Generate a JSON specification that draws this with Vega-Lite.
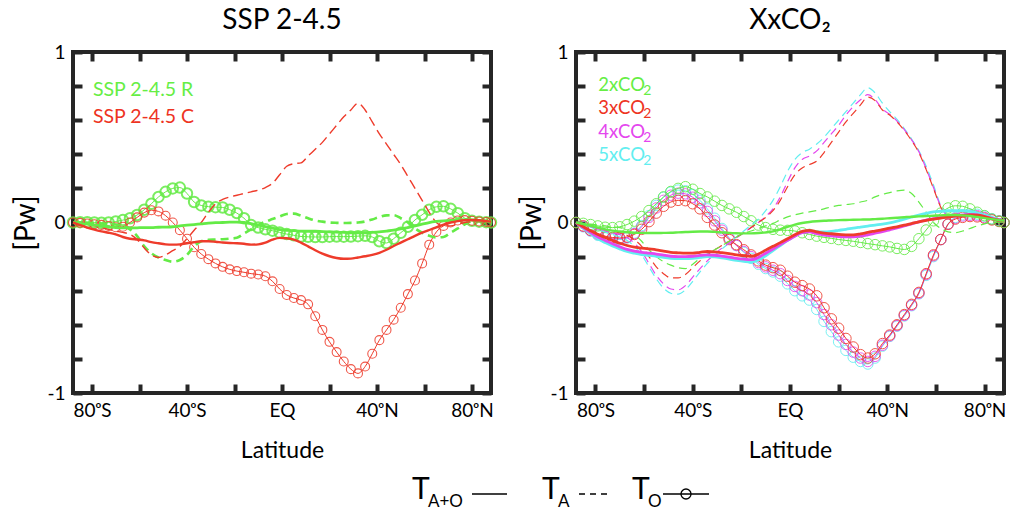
{
"$schema": "https://vega.github.io/schema/vega-lite/v6.json",
"padding": {"left": 10, "top": 5, "right": 4, "bottom": 0},
"background": "white",
"config": {
  "font": "Lato",
  "view": {"stroke": "#262626", "strokeWidth": 4},
  "axis": {"grid": false, "domain": false, "ticks": true, "tickColor": "#262626", "tickWidth": 4, "tickSize": 9, "offset": -9, "zindex": 1, "labelFont": "Lato", "labelFontSize": 19, "labelColor": "black", "titleFont": "Lato", "titleFontWeight": "normal", "titleColor": "black"},
  "title": {"font": "Lato", "fontSize": 28, "fontWeight": "normal", "color": "black"}
},
"datasets": {"d": [
{"lat":-88,"Rs":0,"Rd":0,"Ro":0,"Cs":0,"Cd":0,"Co":0,"g2s":0,"g2d":0,"g2o":0,"r3s":0,"r3d":0,"r3o":0,"m4s":0,"m4d":0,"m4o":0,"c5s":0,"c5d":0,"c5o":0},
{"lat":-85,"Rs":-0.005,"Rd":0,"Ro":0.002,"Cs":-0.015,"Cd":-0.005,"Co":-0.002,"g2s":-0.01,"g2d":-0.005,"g2o":-0.005,"r3s":-0.025,"r3d":-0.01,"r3o":-0.02,"m4s":-0.03,"m4d":-0.012,"m4o":-0.022,"c5s":-0.035,"c5d":-0.014,"c5o":-0.025},
{"lat":-82,"Rs":-0.01,"Rd":-0.002,"Ro":0.002,"Cs":-0.03,"Cd":-0.012,"Co":-0.006,"g2s":-0.02,"g2d":-0.01,"g2o":-0.012,"r3s":-0.048,"r3d":-0.02,"r3o":-0.045,"m4s":-0.058,"m4d":-0.024,"m4o":-0.048,"c5s":-0.065,"c5d":-0.028,"c5o":-0.05},
{"lat":-79,"Rs":-0.015,"Rd":-0.004,"Ro":0,"Cs":-0.042,"Cd":-0.02,"Co":-0.01,"g2s":-0.03,"g2d":-0.015,"g2o":-0.02,"r3s":-0.07,"r3d":-0.03,"r3o":-0.065,"m4s":-0.085,"m4d":-0.036,"m4o":-0.07,"c5s":-0.095,"c5d":-0.042,"c5o":-0.075},
{"lat":-76,"Rs":-0.02,"Rd":-0.006,"Ro":-0.002,"Cs":-0.052,"Cd":-0.03,"Co":-0.014,"g2s":-0.04,"g2d":-0.02,"g2o":-0.028,"r3s":-0.088,"r3d":-0.04,"r3o":-0.08,"m4s":-0.105,"m4d":-0.048,"m4o":-0.085,"c5s":-0.118,"c5d":-0.056,"c5o":-0.09},
{"lat":-73,"Rs":-0.025,"Rd":-0.008,"Ro":0,"Cs":-0.06,"Cd":-0.04,"Co":-0.02,"g2s":-0.048,"g2d":-0.025,"g2o":-0.03,"r3s":-0.105,"r3d":-0.05,"r3o":-0.088,"m4s":-0.125,"m4d":-0.06,"m4o":-0.093,"c5s":-0.138,"c5d":-0.07,"c5o":-0.098},
{"lat":-70,"Rs":-0.03,"Rd":-0.012,"Ro":0.006,"Cs":-0.07,"Cd":-0.05,"Co":-0.028,"g2s":-0.053,"g2d":-0.03,"g2o":-0.025,"r3s":-0.122,"r3d":-0.06,"r3o":-0.09,"m4s":-0.142,"m4d":-0.072,"m4o":-0.095,"c5s":-0.155,"c5d":-0.085,"c5o":-0.1},
{"lat":-67,"Rs":-0.032,"Rd":-0.02,"Ro":0.014,"Cs":-0.085,"Cd":-0.058,"Co":-0.025,"g2s":-0.057,"g2d":-0.045,"g2o":-0.012,"r3s":-0.135,"r3d":-0.075,"r3o":-0.085,"m4s":-0.158,"m4d":-0.09,"m4o":-0.088,"c5s":-0.17,"c5d":-0.105,"c5o":-0.09},
{"lat":-64,"Rs":-0.032,"Rd":-0.04,"Ro":0.025,"Cs":-0.095,"Cd":-0.07,"Co":0,"g2s":-0.06,"g2d":-0.07,"g2o":0.008,"r3s":-0.145,"r3d":-0.1,"r3o":-0.07,"m4s":-0.168,"m4d":-0.12,"m4o":-0.065,"c5s":-0.18,"c5d":-0.14,"c5o":-0.062},
{"lat":-61,"Rs":-0.031,"Rd":-0.08,"Ro":0.044,"Cs":-0.1,"Cd":-0.1,"Co":0.03,"g2s":-0.061,"g2d":-0.11,"g2o":0.035,"r3s":-0.15,"r3d":-0.14,"r3o":-0.04,"m4s":-0.175,"m4d":-0.17,"m4o":-0.025,"c5s":-0.188,"c5d":-0.19,"c5o":-0.018},
{"lat":-58,"Rs":-0.03,"Rd":-0.14,"Ro":0.075,"Cs":-0.105,"Cd":-0.15,"Co":0.058,"g2s":-0.062,"g2d":-0.16,"g2o":0.07,"r3s":-0.155,"r3d":-0.2,"r3o":0.005,"m4s":-0.18,"m4d":-0.24,"m4o":0.03,"c5s":-0.193,"c5d":-0.26,"c5o":0.04},
{"lat":-55,"Rs":-0.03,"Rd":-0.18,"Ro":0.11,"Cs":-0.115,"Cd":-0.19,"Co":0.072,"g2s":-0.062,"g2d":-0.2,"g2o":0.11,"r3s":-0.16,"r3d":-0.26,"r3o":0.055,"m4s":-0.185,"m4d":-0.31,"m4o":0.085,"c5s":-0.198,"c5d":-0.33,"c5o":0.1},
{"lat":-52,"Rs":-0.028,"Rd":-0.205,"Ro":0.15,"Cs":-0.122,"Cd":-0.205,"Co":0.065,"g2s":-0.061,"g2d":-0.23,"g2o":0.15,"r3s":-0.168,"r3d":-0.3,"r3o":0.095,"m4s":-0.192,"m4d":-0.36,"m4o":0.13,"c5s":-0.205,"c5d":-0.385,"c5o":0.148},
{"lat":-49,"Rs":-0.027,"Rd":-0.22,"Ro":0.18,"Cs":-0.128,"Cd":-0.19,"Co":0.04,"g2s":-0.06,"g2d":-0.25,"g2o":0.182,"r3s":-0.175,"r3d":-0.325,"r3o":0.12,"m4s":-0.198,"m4d":-0.39,"m4o":0.16,"c5s":-0.21,"c5d":-0.415,"c5o":0.178},
{"lat":-46,"Rs":-0.025,"Rd":-0.23,"Ro":0.2,"Cs":-0.13,"Cd":-0.165,"Co":0,"g2s":-0.058,"g2d":-0.265,"g2o":0.2,"r3s":-0.178,"r3d":-0.325,"r3o":0.13,"m4s":-0.2,"m4d":-0.395,"m4o":0.172,"c5s":-0.212,"c5d":-0.42,"c5o":0.19},
{"lat":-43,"Rs":-0.02,"Rd":-0.22,"Ro":0.205,"Cs":-0.128,"Cd":-0.14,"Co":-0.045,"g2s":-0.056,"g2d":-0.27,"g2o":0.21,"r3s":-0.18,"r3d":-0.305,"r3o":0.128,"m4s":-0.2,"m4d":-0.37,"m4o":0.168,"c5s":-0.212,"c5d":-0.395,"c5o":0.186},
{"lat":-40,"Rs":-0.016,"Rd":-0.19,"Ro":0.17,"Cs":-0.122,"Cd":-0.095,"Co":-0.095,"g2s":-0.054,"g2d":-0.245,"g2o":0.195,"r3s":-0.18,"r3d":-0.265,"r3o":0.11,"m4s":-0.198,"m4d":-0.32,"m4o":0.148,"c5s":-0.21,"c5d":-0.345,"c5o":0.165},
{"lat":-37,"Rs":-0.012,"Rd":-0.14,"Ro":0.12,"Cs":-0.115,"Cd":-0.045,"Co":-0.145,"g2s":-0.053,"g2d":-0.21,"g2o":0.17,"r3s":-0.175,"r3d":-0.225,"r3o":0.08,"m4s":-0.193,"m4d":-0.27,"m4o":0.115,"c5s":-0.205,"c5d":-0.29,"c5o":0.13},
{"lat":-34,"Rs":-0.008,"Rd":-0.11,"Ro":0.1,"Cs":-0.11,"Cd":0,"Co":-0.185,"g2s":-0.053,"g2d":-0.185,"g2o":0.15,"r3s":-0.17,"r3d":-0.19,"r3o":0.03,"m4s":-0.19,"m4d":-0.225,"m4o":0.065,"c5s":-0.2,"c5d":-0.24,"c5o":0.08},
{"lat":-31,"Rs":-0.004,"Rd":-0.102,"Ro":0.093,"Cs":-0.11,"Cd":0.06,"Co":-0.215,"g2s":-0.055,"g2d":-0.16,"g2o":0.125,"r3s":-0.172,"r3d":-0.16,"r3o":-0.015,"m4s":-0.192,"m4d":-0.185,"m4o":0.01,"c5s":-0.202,"c5d":-0.195,"c5o":0.025},
{"lat":-28,"Rs":-0.001,"Rd":-0.1,"Ro":0.09,"Cs":-0.113,"Cd":0.11,"Co":-0.24,"g2s":-0.058,"g2d":-0.135,"g2o":0.1,"r3s":-0.177,"r3d":-0.135,"r3o":-0.06,"m4s":-0.197,"m4d":-0.15,"m4o":-0.045,"c5s":-0.208,"c5d":-0.155,"c5o":-0.035},
{"lat":-25,"Rs":0,"Rd":-0.098,"Ro":0.088,"Cs":-0.117,"Cd":0.135,"Co":-0.26,"g2s":-0.061,"g2d":-0.11,"g2o":0.08,"r3s":-0.183,"r3d":-0.11,"r3o":-0.1,"m4s":-0.203,"m4d":-0.12,"m4o":-0.095,"c5s":-0.215,"c5d":-0.12,"c5o":-0.09},
{"lat":-22,"Rs":0.002,"Rd":-0.095,"Ro":0.075,"Cs":-0.12,"Cd":0.15,"Co":-0.275,"g2s":-0.063,"g2d":-0.085,"g2o":0.06,"r3s":-0.19,"r3d":-0.085,"r3o":-0.13,"m4s":-0.21,"m4d":-0.09,"m4o":-0.135,"c5s":-0.222,"c5d":-0.085,"c5o":-0.135},
{"lat":-19,"Rs":0.002,"Rd":-0.09,"Ro":0.055,"Cs":-0.122,"Cd":0.16,"Co":-0.285,"g2s":-0.064,"g2d":-0.065,"g2o":0.035,"r3s":-0.195,"r3d":-0.06,"r3o":-0.16,"m4s":-0.215,"m4d":-0.06,"m4o":-0.17,"c5s":-0.228,"c5d":-0.05,"c5o":-0.175},
{"lat":-16,"Rs":0,"Rd":-0.065,"Ro":0.025,"Cs":-0.125,"Cd":0.17,"Co":-0.292,"g2s":-0.064,"g2d":-0.05,"g2o":0.01,"r3s":-0.198,"r3d":-0.03,"r3o":-0.19,"m4s":-0.218,"m4d":-0.03,"m4o":-0.2,"c5s":-0.232,"c5d":-0.015,"c5o":-0.21},
{"lat":-13,"Rs":-0.006,"Rd":-0.04,"Ro":-0.015,"Cs":-0.13,"Cd":0.18,"Co":-0.3,"g2s":-0.062,"g2d":-0.035,"g2o":-0.015,"r3s":-0.185,"r3d":0,"r3o":-0.225,"m4s":-0.205,"m4d":0,"m4o":-0.235,"c5s":-0.22,"c5d":0.02,"c5o":-0.245},
{"lat":-10,"Rs":-0.015,"Rd":-0.015,"Ro":-0.03,"Cs":-0.128,"Cd":0.19,"Co":-0.305,"g2s":-0.058,"g2d":-0.02,"g2o":-0.03,"r3s":-0.162,"r3d":0.03,"r3o":-0.25,"m4s":-0.18,"m4d":0.035,"m4o":-0.26,"c5s":-0.195,"c5d":0.07,"c5o":-0.27},
{"lat":-7,"Rs":-0.024,"Rd":0.005,"Ro":-0.04,"Cs":-0.118,"Cd":0.205,"Co":-0.315,"g2s":-0.052,"g2d":-0.005,"g2o":-0.04,"r3s":-0.14,"r3d":0.07,"r3o":-0.265,"m4s":-0.155,"m4d":0.08,"m4o":-0.28,"c5s":-0.165,"c5d":0.13,"c5o":-0.29},
{"lat":-4,"Rs":-0.033,"Rd":0.02,"Ro":-0.048,"Cs":-0.1,"Cd":0.23,"Co":-0.345,"g2s":-0.04,"g2d":0.015,"g2o":-0.045,"r3s":-0.118,"r3d":0.13,"r3o":-0.28,"m4s":-0.13,"m4d":0.15,"m4o":-0.3,"c5s":-0.135,"c5d":0.21,"c5o":-0.315},
{"lat":-1,"Rs":-0.042,"Rd":0.035,"Ro":-0.058,"Cs":-0.09,"Cd":0.28,"Co":-0.39,"g2s":-0.025,"g2d":0.033,"g2o":-0.046,"r3s":-0.095,"r3d":0.21,"r3o":-0.315,"m4s":-0.105,"m4d":0.24,"m4o":-0.34,"c5s":-0.105,"c5d":0.3,"c5o":-0.36},
{"lat":2,"Rs":-0.046,"Rd":0.05,"Ro":-0.068,"Cs":-0.092,"Cd":0.33,"Co":-0.425,"g2s":-0.012,"g2d":0.045,"g2o":-0.05,"r3s":-0.072,"r3d":0.28,"r3o":-0.35,"m4s":-0.08,"m4d":0.32,"m4o":-0.375,"c5s":-0.078,"c5d":0.37,"c5o":-0.4},
{"lat":5,"Rs":-0.048,"Rd":0.052,"Ro":-0.075,"Cs":-0.1,"Cd":0.345,"Co":-0.443,"g2s":-0.003,"g2d":0.055,"g2o":-0.06,"r3s":-0.052,"r3d":0.32,"r3o":-0.37,"m4s":-0.06,"m4d":0.37,"m4o":-0.4,"c5s":-0.058,"c5d":0.41,"c5o":-0.43},
{"lat":8,"Rs":-0.05,"Rd":0.04,"Ro":-0.082,"Cs":-0.118,"Cd":0.35,"Co":-0.455,"g2s":0.003,"g2d":0.062,"g2o":-0.07,"r3s":-0.046,"r3d":0.34,"r3o":-0.39,"m4s":-0.055,"m4d":0.39,"m4o":-0.425,"c5s":-0.05,"c5d":0.43,"c5o":-0.455},
{"lat":11,"Rs":-0.05,"Rd":0.025,"Ro":-0.084,"Cs":-0.14,"Cd":0.39,"Co":-0.48,"g2s":0.007,"g2d":0.07,"g2o":-0.08,"r3s":-0.055,"r3d":0.36,"r3o":-0.43,"m4s":-0.066,"m4d":0.42,"m4o":-0.47,"c5s":-0.055,"c5d":0.46,"c5o":-0.51},
{"lat":14,"Rs":-0.051,"Rd":0.012,"Ro":-0.085,"Cs":-0.163,"Cd":0.43,"Co":-0.55,"g2s":0.01,"g2d":0.08,"g2o":-0.087,"r3s":-0.062,"r3d":0.41,"r3o":-0.5,"m4s":-0.074,"m4d":0.47,"m4o":-0.54,"c5s":-0.055,"c5d":0.5,"c5o":-0.58},
{"lat":17,"Rs":-0.053,"Rd":0.005,"Ro":-0.085,"Cs":-0.183,"Cd":0.47,"Co":-0.63,"g2s":0.012,"g2d":0.092,"g2o":-0.093,"r3s":-0.066,"r3d":0.47,"r3o":-0.565,"m4s":-0.078,"m4d":0.52,"m4o":-0.6,"c5s":-0.052,"c5d":0.55,"c5o":-0.64},
{"lat":20,"Rs":-0.055,"Rd":0,"Ro":-0.083,"Cs":-0.198,"Cd":0.52,"Co":-0.7,"g2s":0.014,"g2d":0.1,"g2o":-0.1,"r3s":-0.07,"r3d":0.53,"r3o":-0.62,"m4s":-0.082,"m4d":0.57,"m4o":-0.66,"c5s":-0.046,"c5d":0.6,"c5o":-0.7},
{"lat":23,"Rs":-0.057,"Rd":-0.002,"Ro":-0.082,"Cs":-0.208,"Cd":0.57,"Co":-0.76,"g2s":0.015,"g2d":0.105,"g2o":-0.105,"r3s":-0.072,"r3d":0.59,"r3o":-0.68,"m4s":-0.084,"m4d":0.63,"m4o":-0.715,"c5s":-0.04,"c5d":0.65,"c5o":-0.75},
{"lat":26,"Rs":-0.058,"Rd":-0.003,"Ro":-0.083,"Cs":-0.213,"Cd":0.62,"Co":-0.815,"g2s":0.016,"g2d":0.11,"g2o":-0.11,"r3s":-0.073,"r3d":0.64,"r3o":-0.73,"m4s":-0.084,"m4d":0.68,"m4o":-0.76,"c5s":-0.033,"c5d":0.7,"c5o":-0.79},
{"lat":29,"Rs":-0.06,"Rd":-0.002,"Ro":-0.082,"Cs":-0.212,"Cd":0.66,"Co":-0.86,"g2s":0.017,"g2d":0.12,"g2o":-0.117,"r3s":-0.067,"r3d":0.69,"r3o":-0.775,"m4s":-0.08,"m4d":0.72,"m4o":-0.795,"c5s":-0.027,"c5d":0.75,"c5o":-0.815},
{"lat":32,"Rs":-0.06,"Rd":0,"Ro":-0.08,"Cs":-0.205,"Cd":0.7,"Co":-0.885,"g2s":0.018,"g2d":0.13,"g2o":-0.124,"r3s":-0.058,"r3d":0.735,"r3o":-0.795,"m4s":-0.072,"m4d":0.75,"m4o":-0.815,"c5s":-0.021,"c5d":0.79,"c5o":-0.83},
{"lat":35,"Rs":-0.06,"Rd":0.006,"Ro":-0.078,"Cs":-0.198,"Cd":0.66,"Co":-0.845,"g2s":0.02,"g2d":0.15,"g2o":-0.13,"r3s":-0.05,"r3d":0.715,"r3o":-0.77,"m4s":-0.063,"m4d":0.72,"m4o":-0.785,"c5s":-0.015,"c5d":0.76,"c5o":-0.795},
{"lat":38,"Rs":-0.058,"Rd":0.018,"Ro":-0.085,"Cs":-0.19,"Cd":0.59,"Co":-0.77,"g2s":0.022,"g2d":0.165,"g2o":-0.137,"r3s":-0.042,"r3d":0.66,"r3o":-0.71,"m4s":-0.054,"m4d":0.665,"m4o":-0.72,"c5s":-0.01,"c5d":0.7,"c5o":-0.725},
{"lat":41,"Rs":-0.055,"Rd":0.032,"Ro":-0.11,"Cs":-0.178,"Cd":0.52,"Co":-0.69,"g2s":0.025,"g2d":0.175,"g2o":-0.143,"r3s":-0.033,"r3d":0.63,"r3o":-0.66,"m4s":-0.043,"m4d":0.635,"m4o":-0.665,"c5s":-0.002,"c5d":0.65,"c5o":-0.668},
{"lat":44,"Rs":-0.05,"Rd":0.042,"Ro":-0.12,"Cs":-0.16,"Cd":0.46,"Co":-0.63,"g2s":0.028,"g2d":0.185,"g2o":-0.152,"r3s":-0.025,"r3d":0.59,"r3o":-0.6,"m4s":-0.032,"m4d":0.595,"m4o":-0.605,"c5s":0.008,"c5d":0.605,"c5o":-0.608},
{"lat":47,"Rs":-0.045,"Rd":0.043,"Ro":-0.095,"Cs":-0.138,"Cd":0.4,"Co":-0.57,"g2s":0.031,"g2d":0.19,"g2o":-0.158,"r3s":-0.016,"r3d":0.54,"r3o":-0.54,"m4s":-0.02,"m4d":0.545,"m4o":-0.545,"c5s":0.02,"c5d":0.55,"c5o":-0.548},
{"lat":50,"Rs":-0.038,"Rd":0.025,"Ro":-0.06,"Cs":-0.118,"Cd":0.34,"Co":-0.5,"g2s":0.034,"g2d":0.17,"g2o":-0.14,"r3s":-0.006,"r3d":0.48,"r3o":-0.48,"m4s":-0.008,"m4d":0.485,"m4o":-0.485,"c5s":0.032,"c5d":0.49,"c5o":-0.488},
{"lat":53,"Rs":-0.03,"Rd":0,"Ro":-0.025,"Cs":-0.098,"Cd":0.27,"Co":-0.42,"g2s":0.036,"g2d":0.12,"g2o":-0.095,"r3s":0.004,"r3d":0.41,"r3o":-0.41,"m4s":0.004,"m4d":0.415,"m4o":-0.415,"c5s":0.044,"c5d":0.42,"c5o":-0.418},
{"lat":56,"Rs":-0.02,"Rd":-0.035,"Ro":0.015,"Cs":-0.078,"Cd":0.2,"Co":-0.34,"g2s":0.038,"g2d":0.06,"g2o":-0.044,"r3s":0.012,"r3d":0.31,"r3o":-0.3,"m4s":0.014,"m4d":0.315,"m4o":-0.305,"c5s":0.054,"c5d":0.33,"c5o":-0.31},
{"lat":59,"Rs":-0.01,"Rd":-0.06,"Ro":0.045,"Cs":-0.06,"Cd":0.13,"Co":-0.24,"g2s":0.04,"g2d":0,"g2o":0.01,"r3s":0.02,"r3d":0.2,"r3o":-0.19,"m4s":0.022,"m4d":0.205,"m4o":-0.195,"c5s":0.062,"c5d":0.22,"c5o":-0.2},
{"lat":62,"Rs":0,"Rd":-0.078,"Ro":0.075,"Cs":-0.044,"Cd":0.06,"Co":-0.13,"g2s":0.042,"g2d":-0.035,"g2o":0.055,"r3s":0.026,"r3d":0.09,"r3o":-0.1,"m4s":0.03,"m4d":0.095,"m4o":-0.1,"c5s":0.066,"c5d":0.1,"c5o":-0.1},
{"lat":65,"Rs":0.006,"Rd":-0.088,"Ro":0.092,"Cs":-0.028,"Cd":0,"Co":-0.055,"g2s":0.044,"g2d":-0.055,"g2o":0.085,"r3s":0.032,"r3d":0.035,"r3o":-0.01,"m4s":0.036,"m4d":0.04,"m4o":-0.01,"c5s":0.069,"c5d":0.045,"c5o":-0.008},
{"lat":68,"Rs":0.01,"Rd":-0.085,"Ro":0.095,"Cs":-0.012,"Cd":-0.02,"Co":-0.02,"g2s":0.044,"g2d":-0.06,"g2o":0.098,"r3s":0.037,"r3d":0.035,"r3o":0.02,"m4s":0.041,"m4d":0.04,"m4o":0.025,"c5s":0.07,"c5d":0.045,"c5o":0.03},
{"lat":71,"Rs":0.013,"Rd":-0.06,"Ro":0.08,"Cs":0,"Cd":-0.02,"Co":0,"g2s":0.042,"g2d":-0.05,"g2o":0.095,"r3s":0.041,"r3d":0.04,"r3o":0.03,"m4s":0.045,"m4d":0.045,"m4o":0.038,"c5s":0.069,"c5d":0.05,"c5o":0.045},
{"lat":74,"Rs":0.015,"Rd":-0.035,"Ro":0.055,"Cs":0.008,"Cd":-0.01,"Co":0.012,"g2s":0.038,"g2d":-0.035,"g2o":0.08,"r3s":0.044,"r3d":0.045,"r3o":0.035,"m4s":0.047,"m4d":0.05,"m4o":0.042,"c5s":0.065,"c5d":0.055,"c5o":0.05},
{"lat":77,"Rs":0.016,"Rd":-0.01,"Ro":0.025,"Cs":0.013,"Cd":0,"Co":0.014,"g2s":0.032,"g2d":-0.02,"g2o":0.06,"r3s":0.043,"r3d":0.045,"r3o":0.033,"m4s":0.045,"m4d":0.05,"m4o":0.04,"c5s":0.057,"c5d":0.055,"c5o":0.048},
{"lat":80,"Rs":0.015,"Rd":0.005,"Ro":0.01,"Cs":0.015,"Cd":0.005,"Co":0.01,"g2s":0.026,"g2d":-0.008,"g2o":0.04,"r3s":0.035,"r3d":0.035,"r3o":0.025,"m4s":0.036,"m4d":0.04,"m4o":0.03,"c5s":0.045,"c5d":0.045,"c5o":0.038},
{"lat":83,"Rs":0.012,"Rd":0.006,"Ro":0.005,"Cs":0.013,"Cd":0.005,"Co":0.006,"g2s":0.02,"g2d":0,"g2o":0.02,"r3s":0.022,"r3d":0.02,"r3o":0.015,"m4s":0.024,"m4d":0.025,"m4o":0.018,"c5s":0.03,"c5d":0.03,"c5o":0.022},
{"lat":86,"Rs":0.008,"Rd":0.003,"Ro":0.002,"Cs":0.008,"Cd":0.003,"Co":0.003,"g2s":0.014,"g2d":0.002,"g2o":0.008,"r3s":0.014,"r3d":0.01,"r3o":0.006,"m4s":0.015,"m4d":0.012,"m4o":0.008,"c5s":0.017,"c5d":0.014,"c5o":0.01},
{"lat":88,"Rs":0.005,"Rd":0,"Ro":0,"Cs":0.005,"Cd":0,"Co":0,"g2s":0.01,"g2d":0,"g2o":0,"r3s":0.01,"r3d":0.005,"r3o":0,"m4s":0.01,"m4d":0.005,"m4o":0,"c5s":0.01,"c5d":0.005,"c5o":0}
]},
"vconcat": [
 {"hconcat": [
  {"width": 418, "height": 341,
   "title": {"text": "SSP 2-4.5", "offset": 8},
   "data": {"name": "d"},
   "resolve": {"axis": {"x": "independent", "y": "independent"}},
   "layer": [
    {"mark": {"type": "line", "interpolate": "monotone", "color": "#64EB46", "strokeWidth": 1, "point": {"filled": false, "shape": "circle", "size": 110, "strokeWidth": 2, "color": "#64EB46", "opacity": 0.85}},
     "encoding": {"x": {"field": "lat", "type": "quantitative", "scale": {"domain": [-88, 88], "nice": false, "zero": false},
       "axis": {"orient": "bottom", "values": [-80,-60,-40,-20,0,20,40,60,80], "labelExpr": "datum.value==-80?'80ᵒS':datum.value==-40?'40ᵒS':datum.value==0?'EQ':datum.value==40?'40ᵒN':datum.value==80?'80ᵒN':''", "title": "Latitude", "titleFontSize": 23, "titlePadding": 19, "labelPadding": 8}},
      "y": {"field": "Ro", "type": "quantitative", "scale": {"domain": [-1, 1], "nice": false, "zero": false},
       "axis": {"orient": "left", "values": [-1,-0.8,-0.6,-0.4,-0.2,0,0.2,0.4,0.6,0.8,1], "labelExpr": "datum.value==1?'1':datum.value==0?'0':datum.value==-1?'-1':''", "title": "[Pw]", "titleFontSize": 28, "labelPadding": 8, "titlePadding": 6}}}},
    {"mark": {"type": "line", "interpolate": "monotone", "color": "#EE3B2B", "strokeWidth": 1, "point": {"filled": false, "shape": "circle", "size": 80, "strokeWidth": 1.1, "color": "#EE3B2B", "opacity": 0.85}},
     "encoding": {"x": {"field": "lat", "type": "quantitative", "axis": {"orient": "top", "values": [-80,-60,-40,-20,0,20,40,60,80], "labels": false, "title": null}},
      "y": {"field": "Co", "type": "quantitative", "axis": {"orient": "right", "values": [-1,-0.8,-0.6,-0.4,-0.2,0,0.2,0.4,0.6,0.8,1], "labels": false, "title": null}}}},
    {"mark": {"type": "line", "interpolate": "monotone", "color": "#64EB46", "strokeWidth": 2.6, "strokeDash": [8, 5]},
     "encoding": {"x": {"field": "lat", "type": "quantitative", "axis": null}, "y": {"field": "Rd", "type": "quantitative", "axis": null}}},
    {"mark": {"type": "line", "interpolate": "monotone", "color": "#EE3B2B", "strokeWidth": 1.4, "strokeDash": [10, 5]},
     "encoding": {"x": {"field": "lat", "type": "quantitative", "axis": null}, "y": {"field": "Cd", "type": "quantitative", "axis": null}}},
    {"mark": {"type": "line", "interpolate": "monotone", "color": "#64EB46", "strokeWidth": 2.8},
     "encoding": {"x": {"field": "lat", "type": "quantitative", "axis": null}, "y": {"field": "Rs", "type": "quantitative", "axis": null}}},
    {"mark": {"type": "line", "interpolate": "monotone", "color": "#EE3B2B", "strokeWidth": 2.4},
     "encoding": {"x": {"field": "lat", "type": "quantitative", "axis": null}, "y": {"field": "Cs", "type": "quantitative", "axis": null}}},
    {"data": {"values": [{"lat": -79.6, "v": 0.777, "t": "SSP 2-4.5 R"}]},
     "mark": {"type": "text", "align": "left", "baseline": "middle", "fontSize": 19.5, "color": "#66EE44"},
     "encoding": {"x": {"field": "lat", "type": "quantitative", "axis": null}, "y": {"field": "v", "type": "quantitative", "axis": null}, "text": {"field": "t"}}},
    {"data": {"values": [{"lat": -79.6, "v": 0.62, "t": "SSP 2-4.5 C"}]},
     "mark": {"type": "text", "align": "left", "baseline": "middle", "fontSize": 19.5, "color": "#EE3322"},
     "encoding": {"x": {"field": "lat", "type": "quantitative", "axis": null}, "y": {"field": "v", "type": "quantitative", "axis": null}, "text": {"field": "t"}}}
   ]},
  {"width": 428, "height": 341,
   "title": {"text": "XxCO₂", "offset": 8},
   "data": {"name": "d"},
   "resolve": {"axis": {"x": "independent", "y": "independent"}},
   "layer": [
    {"mark": {"type": "line", "interpolate": "monotone", "color": "#62EEF0", "strokeWidth": 1, "point": {"filled": false, "shape": "circle", "size": 110, "strokeWidth": 1, "color": "#62EEF0", "opacity": 0.85}},
     "encoding": {"x": {"field": "lat", "type": "quantitative", "scale": {"domain": [-88, 88], "nice": false, "zero": false},
       "axis": {"orient": "bottom", "values": [-80,-60,-40,-20,0,20,40,60,80], "labelExpr": "datum.value==-80?'80ᵒS':datum.value==-40?'40ᵒS':datum.value==0?'EQ':datum.value==40?'40ᵒN':datum.value==80?'80ᵒN':''", "title": "Latitude", "titleFontSize": 23, "titlePadding": 19, "labelPadding": 8}},
      "y": {"field": "c5o", "type": "quantitative", "scale": {"domain": [-1, 1], "nice": false, "zero": false},
       "axis": {"orient": "left", "values": [-1,-0.8,-0.6,-0.4,-0.2,0,0.2,0.4,0.6,0.8,1], "labelExpr": "datum.value==1?'1':datum.value==0?'0':datum.value==-1?'-1':''", "title": "[Pw]", "titleFontSize": 28, "labelPadding": 8, "titlePadding": 3}}}},
    {"mark": {"type": "line", "interpolate": "monotone", "color": "#E446EE", "strokeWidth": 1, "point": {"filled": false, "shape": "circle", "size": 110, "strokeWidth": 1, "color": "#E446EE", "opacity": 0.85}},
     "encoding": {"x": {"field": "lat", "type": "quantitative", "axis": {"orient": "top", "values": [-80,-60,-40,-20,0,20,40,60,80], "labels": false, "title": null}},
      "y": {"field": "m4o", "type": "quantitative", "axis": {"orient": "right", "values": [-1,-0.8,-0.6,-0.4,-0.2,0,0.2,0.4,0.6,0.8,1], "labels": false, "title": null}}}},
    {"mark": {"type": "line", "interpolate": "monotone", "color": "#EE3B2B", "strokeWidth": 1, "point": {"filled": false, "shape": "circle", "size": 110, "strokeWidth": 1, "color": "#EE3B2B", "opacity": 0.85}},
     "encoding": {"x": {"field": "lat", "type": "quantitative", "axis": null}, "y": {"field": "r3o", "type": "quantitative", "axis": null}}},
    {"mark": {"type": "line", "interpolate": "monotone", "color": "#64EB46", "strokeWidth": 1, "point": {"filled": false, "shape": "circle", "size": 110, "strokeWidth": 1, "color": "#64EB46", "opacity": 0.85}},
     "encoding": {"x": {"field": "lat", "type": "quantitative", "axis": null}, "y": {"field": "g2o", "type": "quantitative", "axis": null}}},
    {"mark": {"type": "line", "interpolate": "monotone", "color": "#62EEF0", "strokeWidth": 1.2, "strokeDash": [8, 5]},
     "encoding": {"x": {"field": "lat", "type": "quantitative", "axis": null}, "y": {"field": "c5d", "type": "quantitative", "axis": null}}},
    {"mark": {"type": "line", "interpolate": "monotone", "color": "#E446EE", "strokeWidth": 1.2, "strokeDash": [8, 5]},
     "encoding": {"x": {"field": "lat", "type": "quantitative", "axis": null}, "y": {"field": "m4d", "type": "quantitative", "axis": null}}},
    {"mark": {"type": "line", "interpolate": "monotone", "color": "#EE3B2B", "strokeWidth": 1.2, "strokeDash": [8, 5]},
     "encoding": {"x": {"field": "lat", "type": "quantitative", "axis": null}, "y": {"field": "r3d", "type": "quantitative", "axis": null}}},
    {"mark": {"type": "line", "interpolate": "monotone", "color": "#64EB46", "strokeWidth": 1.2, "strokeDash": [8, 5]},
     "encoding": {"x": {"field": "lat", "type": "quantitative", "axis": null}, "y": {"field": "g2d", "type": "quantitative", "axis": null}}},
    {"mark": {"type": "line", "interpolate": "monotone", "color": "#62EEF0", "strokeWidth": 2.8},
     "encoding": {"x": {"field": "lat", "type": "quantitative", "axis": null}, "y": {"field": "c5s", "type": "quantitative", "axis": null}}},
    {"mark": {"type": "line", "interpolate": "monotone", "color": "#E446EE", "strokeWidth": 2.8},
     "encoding": {"x": {"field": "lat", "type": "quantitative", "axis": null}, "y": {"field": "m4s", "type": "quantitative", "axis": null}}},
    {"mark": {"type": "line", "interpolate": "monotone", "color": "#EE3B2B", "strokeWidth": 2.8},
     "encoding": {"x": {"field": "lat", "type": "quantitative", "axis": null}, "y": {"field": "r3s", "type": "quantitative", "axis": null}}},
    {"mark": {"type": "line", "interpolate": "monotone", "color": "#64EB46", "strokeWidth": 2.4},
     "encoding": {"x": {"field": "lat", "type": "quantitative", "axis": null}, "y": {"field": "g2s", "type": "quantitative", "axis": null}}},
    {"data": {"values": [{"lat": -78.8, "v": 0.806, "t": "2xCO", "s": "2"}]},
     "layer": [
      {"mark": {"type": "text", "align": "left", "baseline": "middle", "fontSize": 18.5, "color": "#66EE44"},
       "encoding": {"x": {"field": "lat", "type": "quantitative", "axis": null}, "y": {"field": "v", "type": "quantitative", "axis": null}, "text": {"field": "t"}}},
      {"mark": {"type": "text", "align": "left", "baseline": "middle", "fontSize": 14, "dx": 45, "dy": 6, "color": "#66EE44"},
       "encoding": {"x": {"field": "lat", "type": "quantitative", "axis": null}, "y": {"field": "v", "type": "quantitative", "axis": null}, "text": {"field": "s"}}}
     ]},
    {"data": {"values": [{"lat": -78.8, "v": 0.672, "t": "3xCO", "s": "2"}]},
     "layer": [
      {"mark": {"type": "text", "align": "left", "baseline": "middle", "fontSize": 18.5, "color": "#EE3322"},
       "encoding": {"x": {"field": "lat", "type": "quantitative", "axis": null}, "y": {"field": "v", "type": "quantitative", "axis": null}, "text": {"field": "t"}}},
      {"mark": {"type": "text", "align": "left", "baseline": "middle", "fontSize": 14, "dx": 45, "dy": 6, "color": "#EE3322"},
       "encoding": {"x": {"field": "lat", "type": "quantitative", "axis": null}, "y": {"field": "v", "type": "quantitative", "axis": null}, "text": {"field": "s"}}}
     ]},
    {"data": {"values": [{"lat": -78.8, "v": 0.531, "t": "4xCO", "s": "2"}]},
     "layer": [
      {"mark": {"type": "text", "align": "left", "baseline": "middle", "fontSize": 18.5, "color": "#E446EE"},
       "encoding": {"x": {"field": "lat", "type": "quantitative", "axis": null}, "y": {"field": "v", "type": "quantitative", "axis": null}, "text": {"field": "t"}}},
      {"mark": {"type": "text", "align": "left", "baseline": "middle", "fontSize": 14, "dx": 45, "dy": 6, "color": "#E446EE"},
       "encoding": {"x": {"field": "lat", "type": "quantitative", "axis": null}, "y": {"field": "v", "type": "quantitative", "axis": null}, "text": {"field": "s"}}}
     ]},
    {"data": {"values": [{"lat": -78.8, "v": 0.396, "t": "5xCO", "s": "2"}]},
     "layer": [
      {"mark": {"type": "text", "align": "left", "baseline": "middle", "fontSize": 18.5, "color": "#62EEF0"},
       "encoding": {"x": {"field": "lat", "type": "quantitative", "axis": null}, "y": {"field": "v", "type": "quantitative", "axis": null}, "text": {"field": "t"}}},
      {"mark": {"type": "text", "align": "left", "baseline": "middle", "fontSize": 14, "dx": 45, "dy": 6, "color": "#62EEF0"},
       "encoding": {"x": {"field": "lat", "type": "quantitative", "axis": null}, "y": {"field": "v", "type": "quantitative", "axis": null}, "text": {"field": "s"}}}
     ]}
   ]}
 ], "spacing": 13},
 {"width": 900, "height": 30, "view": {"stroke": null},
  "layer": [
   {"data": {"values": [{"x": 33.9, "y": 0.8, "t": "T"}, {"x": 46.9, "y": 0.8, "t": "T"}, {"x": 55.9, "y": 0.8, "t": "T"}]},
    "mark": {"type": "text", "align": "left", "baseline": "middle", "fontSize": 30, "color": "black"},
    "encoding": {"x": {"field": "x", "type": "quantitative", "scale": {"domain": [0, 90], "nice": false, "zero": false}, "axis": null}, "y": {"field": "y", "type": "quantitative", "scale": {"domain": [0, 1], "nice": false}, "axis": null}, "text": {"field": "t"}}},
   {"data": {"values": [{"x": 35.5, "y": 0.4, "t": "A+O"}, {"x": 48.5, "y": 0.4, "t": "A"}, {"x": 57.5, "y": 0.4, "t": "O"}]},
    "mark": {"type": "text", "align": "left", "baseline": "middle", "fontSize": 17, "color": "black"},
    "encoding": {"x": {"field": "x", "type": "quantitative", "axis": null}, "y": {"field": "y", "type": "quantitative", "axis": null}, "text": {"field": "t"}}},
   {"data": {"values": [{"x": 39.9, "x2": 43.4, "y": 0.667}]},
    "mark": {"type": "rule", "color": "black", "strokeWidth": 1.3},
    "encoding": {"x": {"field": "x", "type": "quantitative", "axis": null}, "x2": {"field": "x2"}, "y": {"field": "y", "type": "quantitative", "axis": null}}},
   {"data": {"values": [{"x": 50.6, "x2": 53.9, "y": 0.667}]},
    "mark": {"type": "rule", "color": "black", "strokeWidth": 1.3, "strokeDash": [6, 5]},
    "encoding": {"x": {"field": "x", "type": "quantitative", "axis": null}, "x2": {"field": "x2"}, "y": {"field": "y", "type": "quantitative", "axis": null}}},
   {"data": {"values": [{"x": 59.0, "x2": 63.6, "y": 0.667}]},
    "mark": {"type": "rule", "color": "black", "strokeWidth": 1.3},
    "encoding": {"x": {"field": "x", "type": "quantitative", "axis": null}, "x2": {"field": "x2"}, "y": {"field": "y", "type": "quantitative", "axis": null}}},
   {"data": {"values": [{"x": 61.3, "y": 0.667}]},
    "mark": {"type": "point", "shape": "circle", "filled": false, "size": 100, "strokeWidth": 1.3, "color": "black", "opacity": 1},
    "encoding": {"x": {"field": "x", "type": "quantitative", "axis": null}, "y": {"field": "y", "type": "quantitative", "axis": null}}}
  ]}
],
"spacing": 10
}
